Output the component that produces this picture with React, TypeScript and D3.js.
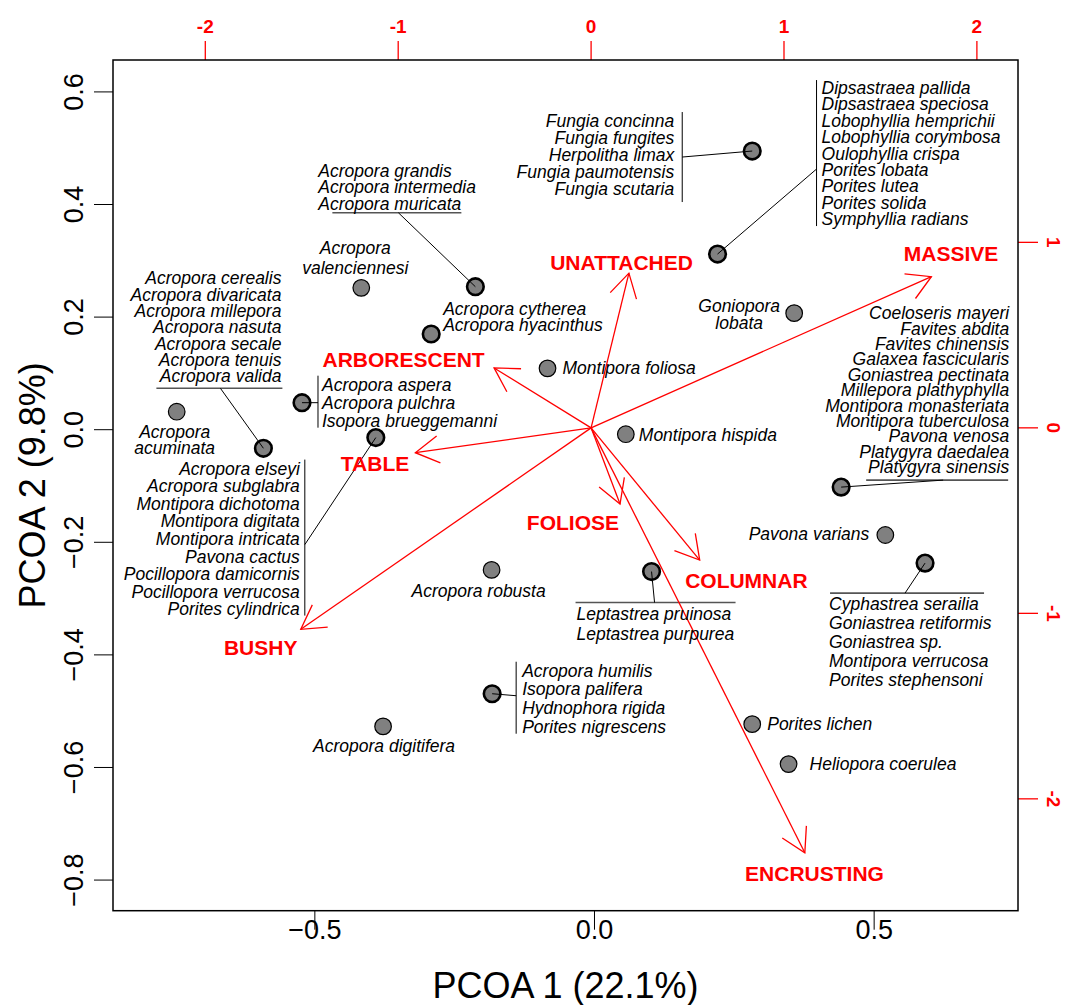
import React from 'react';
import * as d3 from 'd3';

// ---------- data ----------
const pcoa1Ticks = [-0.5, 0, 0.5];
const pcoa2Ticks = [0.6, 0.4, 0.2, 0, -0.2, -0.4, -0.6, -0.8];
const traitTicksTop = [-2, -1, 0, 1, 2];
const traitTicksRight = [1, 0, -1, -2];

const groupSpecies: string[][] = [
  ['Fungia concinna', 'Fungia fungites', 'Herpolitha limax', 'Fungia paumotensis', 'Fungia scutaria'],
  ['Dipsastraea pallida', 'Dipsastraea speciosa', 'Lobophyllia hemprichii', 'Lobophyllia corymbosa', 'Oulophyllia crispa', 'Porites lobata', 'Porites lutea', 'Porites solida', 'Symphyllia radians'],
  ['Acropora grandis', 'Acropora intermedia', 'Acropora muricata'],
  ['Acropora', 'valenciennesi'],
  ['Acropora cytherea', 'Acropora hyacinthus'],
  ['Goniopora', 'lobata'],
  ['Montipora foliosa'],
  ['Acropora cerealis', 'Acropora divaricata', 'Acropora millepora', 'Acropora nasuta', 'Acropora secale', 'Acropora tenuis', 'Acropora valida'],
  ['Acropora', 'acuminata'],
  ['Acropora aspera', 'Acropora pulchra', 'Isopora brueggemanni'],
  ['Acropora elseyi', 'Acropora subglabra', 'Montipora dichotoma', 'Montipora digitata', 'Montipora intricata', 'Pavona cactus', 'Pocillopora damicornis', 'Pocillopora verrucosa', 'Porites cylindrica'],
  ['Montipora hispida'],
  ['Coeloseris mayeri', 'Favites abdita', 'Favites chinensis', 'Galaxea fascicularis', 'Goniastrea pectinata', 'Millepora plathyphylla', 'Montipora monasteriata', 'Montipora tuberculosa', 'Pavona venosa', 'Platygyra daedalea', 'Platygyra sinensis'],
  ['Pavona varians'],
  ['Cyphastrea serailia', 'Goniastrea retiformis', 'Goniastrea sp.', 'Montipora verrucosa', 'Porites stephensoni'],
  ['Acropora robusta'],
  ['Leptastrea pruinosa', 'Leptastrea purpurea'],
  ['Acropora humilis', 'Isopora palifera', 'Hydnophora rigida', 'Porites nigrescens'],
  ['Acropora digitifera'],
  ['Porites lichen'],
  ['Heliopora coerulea'],
];
// number of species sharing each point (1 = single species)
const groupCount = [5, 9, 3, 1, 2, 1, 1, 7, 1, 3, 9, 1, 11, 1, 5, 1, 2, 4, 1, 1, 1];
const groupPC1 = [0.282, 0.220, -0.213, -0.417, -0.292, 0.357, -0.084, -0.592, -0.747, -0.523, -0.391, 0.056, 0.441, 0.520, 0.591, -0.184, 0.102, -0.183, -0.378, 0.282, 0.347];
const groupPC2 = [0.495, 0.312, 0.254, 0.252, 0.170, 0.207, 0.109, -0.033, 0.032, 0.048, -0.014, -0.008, -0.102, -0.187, -0.237, -0.249, -0.252, -0.469, -0.527, -0.523, -0.594];

const traitNames = ['MASSIVE', 'UNATTACHED', 'ARBORESCENT', 'TABLE', 'BUSHY', 'FOLIOSE', 'COLUMNAR', 'ENCRUSTING'];
const traitX = [1.764, 0.196, -0.503, -0.911, -1.505, 0.150, 0.563, 1.108];
const traitY = [0.815, 0.834, 0.323, -0.134, -1.086, -0.411, -0.713, -2.291];
const traitLabelX = [1.866, 0.158, -0.972, -1.120, -1.713, -0.094, 0.805, 1.158];
const traitLabelY = [0.942, 0.890, 0.366, -0.191, -1.183, -0.512, -0.824, -2.405];

// ---------- label layout (pixel offsets relative to each point) ----------
type Deco =
  | { type: 'bar'; x: number; y1: number; y2: number; cy: number }
  | { type: 'under'; y: number; x1: number; x2: number; cx: number }
  | null;
interface Layout { anchor: 'start' | 'end' | 'middle'; tx: number; ty: number; lh: number; deco: Deco }
const layouts: Layout[] = [
  { anchor: 'end', tx: -78, ty: -24, lh: 17, deco: { type: 'bar', x: -70, y1: -39, y2: 51, cy: 6 } },
  { anchor: 'start', tx: 104, ty: -160, lh: 16.4, deco: { type: 'bar', x: 99, y1: -174, y2: -28, cy: -85 } },
  { anchor: 'start', tx: -157, ty: -110, lh: 16.5, deco: { type: 'under', y: -74, x1: -143, x2: -14, cx: -77 } },
  { anchor: 'middle', tx: -6, ty: -34, lh: 20, deco: null },
  { anchor: 'start', tx: 12, ty: -19, lh: 16, deco: null },
  { anchor: 'middle', tx: -55, ty: -1, lh: 16.5, deco: null },
  { anchor: 'start', tx: 15, ty: 6, lh: 17, deco: null },
  { anchor: 'end', tx: 18, ty: -164, lh: 16.33, deco: { type: 'under', y: -60, x1: -107, x2: 19, cx: -43 } },
  { anchor: 'middle', tx: -2, ty: 26, lh: 16, deco: null },
  { anchor: 'start', tx: 20, ty: -12, lh: 18, deco: { type: 'bar', x: 16, y1: -27, y2: 25, cy: 0 } },
  { anchor: 'end', tx: -76, ty: 37, lh: 17.6, deco: { type: 'bar', x: -71, y1: 22, y2: 178, cy: 107 } },
  { anchor: 'start', tx: 13, ty: 7, lh: 17, deco: null },
  { anchor: 'end', tx: 168, ty: -168, lh: 15.4, deco: { type: 'under', y: -7, x1: 25, x2: 167, cx: 102 } },
  { anchor: 'end', tx: -16, ty: 5, lh: 17, deco: null },
  { anchor: 'start', tx: -96, ty: 47, lh: 19, deco: { type: 'under', y: 30, x1: -95, x2: 59, cx: -20 } },
  { anchor: 'middle', tx: -13, ty: 27, lh: 17, deco: null },
  { anchor: 'start', tx: -75, ty: 48, lh: 20, deco: { type: 'under', y: 31, x1: -76, x2: 84, cx: 3 } },
  { anchor: 'start', tx: 30, ty: -17, lh: 18.7, deco: { type: 'bar', x: 24, y1: -32, y2: 40, cy: 2 } },
  { anchor: 'middle', tx: 1, ty: 26, lh: 17, deco: null },
  { anchor: 'start', tx: 15, ty: 6, lh: 17, deco: null },
  { anchor: 'start', tx: 21, ty: 6, lh: 17, deco: null },
];

const FONT = '"Liberation Sans", Arial, Helvetica, sans-serif';
const RED = '#FF0000';

export default function App() {
  const W = 1068, H = 1005;
  const L = 113, R = 1018, T = 60, B = 910.7;

  const x = d3.scaleLinear().domain([-0.8609, 0.7572]).range([L, R]);
  const y = d3.scaleLinear().domain([-0.8544, 0.6567]).range([B, T]);
  const x2 = d3.scaleLinear().domain([-2.4785, 2.2131]).range([L, R]);
  const y2 = d3.scaleLinear().domain([-2.603, 1.983]).range([B, T]);
  const fmt = d3.format('.1f');

  const ox = x2(0), oy = y2(0);
  const headLen = 27, headAng = Math.PI / 6;

  return (
    <svg width={W} height={H} style={{ position: 'absolute', left: 0, top: 0, background: '#fff' }} fontFamily={FONT}>
      <rect x={0} y={0} width={W} height={H} fill="#fff" />
      {/* left axis */}
      {pcoa2Ticks.map((t) => (
        <g key={'ly' + t}>
          <line x1={L} x2={L - 19} y1={y(t)} y2={y(t)} stroke="#000" strokeWidth={1} />
          <text transform={`translate(${83},${y(t)}) rotate(-90)`} textAnchor="middle" fontSize={27} fill="#000">{fmt(t)}</text>
        </g>
      ))}
      <text transform={`translate(${45},${(T + B) / 2}) rotate(-90)`} textAnchor="middle" fontSize={36} fill="#000">PCOA 2 (9.8%)</text>
      {/* bottom axis */}
      {pcoa1Ticks.map((t) => (
        <g key={'bx' + t}>
          <line x1={x(t)} x2={x(t)} y1={B} y2={B + 19} stroke="#000" strokeWidth={1} />
          <text x={x(t)} y={939} textAnchor="middle" fontSize={27} fill="#000">{fmt(t)}</text>
        </g>
      ))}
      <text x={(L + R) / 2} y={998} textAnchor="middle" fontSize={36} fill="#000">PCOA 1 (22.1%)</text>
      {/* top axis (traits) */}
      {traitTicksTop.map((t) => (
        <g key={'tx' + t}>
          <line x1={x2(t)} x2={x2(t)} y1={T} y2={T - 19} stroke={RED} strokeWidth={1.3} />
          <text x={x2(t)} y={33} textAnchor="middle" fontSize={19} fontWeight="bold" fill={RED}>{String(t)}</text>
        </g>
      ))}
      {/* right axis (traits) */}
      {traitTicksRight.map((t) => (
        <g key={'ry' + t}>
          <line x1={R} x2={R + 20} y1={y2(t)} y2={y2(t)} stroke={RED} strokeWidth={1.3} />
          <text transform={`translate(${1047},${y2(t)}) rotate(90)`} textAnchor="middle" fontSize={19} fontWeight="bold" fill={RED}>{String(t)}</text>
        </g>
      ))}

      {/* connectors / bars / underlines */}
      {layouts.map((lay, i) => {
        const px = x(groupPC1[i]), py = y(groupPC2[i]);
        const d = lay.deco;
        if (!d) return null;
        if (d.type === 'bar') {
          return (
            <g key={'d' + i}>
              <line x1={px + d.x} x2={px + d.x} y1={py + d.y1} y2={py + d.y2} stroke="#000" strokeWidth={1} />
              <line x1={px} y1={py} x2={px + d.x} y2={py + d.cy} stroke="#000" strokeWidth={1} />
            </g>
          );
        }
        return (
          <g key={'d' + i}>
            <line x1={px + d.x1} x2={px + d.x2} y1={py + d.y} y2={py + d.y} stroke="#555" strokeWidth={1.6} />
            <line x1={px} y1={py} x2={px + d.cx} y2={py + d.y} stroke="#000" strokeWidth={1} />
          </g>
        );
      })}

      {/* trait arrows */}
      {traitNames.map((n, i) => {
        const tx = x2(traitX[i]), ty = y2(traitY[i]);
        const a = Math.atan2(ty - oy, tx - ox);
        const h1x = tx - headLen * Math.cos(a - headAng), h1y = ty - headLen * Math.sin(a - headAng);
        const h2x = tx - headLen * Math.cos(a + headAng), h2y = ty - headLen * Math.sin(a + headAng);
        return (
          <g key={'a' + n}>
            <line x1={ox} y1={oy} x2={tx} y2={ty} stroke={RED} strokeWidth={1.3} />
            <polyline points={`${h1x},${h1y} ${tx},${ty} ${h2x},${h2y}`} fill="none" stroke={RED} strokeWidth={1.3} />
          </g>
        );
      })}

      {/* points */}
      {groupPC1.map((v, i) => (
        <circle key={'p' + i} cx={x(v)} cy={y(groupPC2[i])} r={8.3} fill="#808080" stroke="#000" strokeWidth={groupCount[i] > 1 ? 2.6 : 1.2} />
      ))}
      {/* connector end inside multi points */}
      {layouts.map((lay, i) => {
        const d = lay.deco;
        if (!d) return null;
        const px = x(groupPC1[i]), py = y(groupPC2[i]);
        const ex = d.type === 'bar' ? d.x : d.cx, ey = d.type === 'bar' ? d.cy : d.y;
        const len = Math.hypot(ex, ey);
        return <line key={'c' + i} x1={px} y1={py} x2={px + (ex / len) * 8} y2={py + (ey / len) * 8} stroke="#000" strokeWidth={1} />;
      })}

      {/* species labels */}
      {groupSpecies.map((names, i) => {
        const lay = layouts[i];
        const px = x(groupPC1[i]), py = y(groupPC2[i]);
        return (
          <text key={'s' + i} textAnchor={lay.anchor} fontSize={17.5} fontStyle="italic" fill="#000">
            {names.map((nm, j) => (
              <tspan key={j} x={px + lay.tx} y={py + lay.ty + j * lay.lh}>{nm}</tspan>
            ))}
          </text>
        );
      })}

      {/* trait labels */}
      {traitNames.map((n, i) => (
        <text key={'tl' + n} x={x2(traitLabelX[i])} y={y2(traitLabelY[i]) + 7.5} textAnchor="middle" fontSize={21} fontWeight="bold" fill={RED}>{n}</text>
      ))}

      {/* frame */}
      <rect x={L} y={T} width={R - L} height={B - T} fill="none" stroke="#000" strokeWidth={1.5} />
    </svg>
  );
}
